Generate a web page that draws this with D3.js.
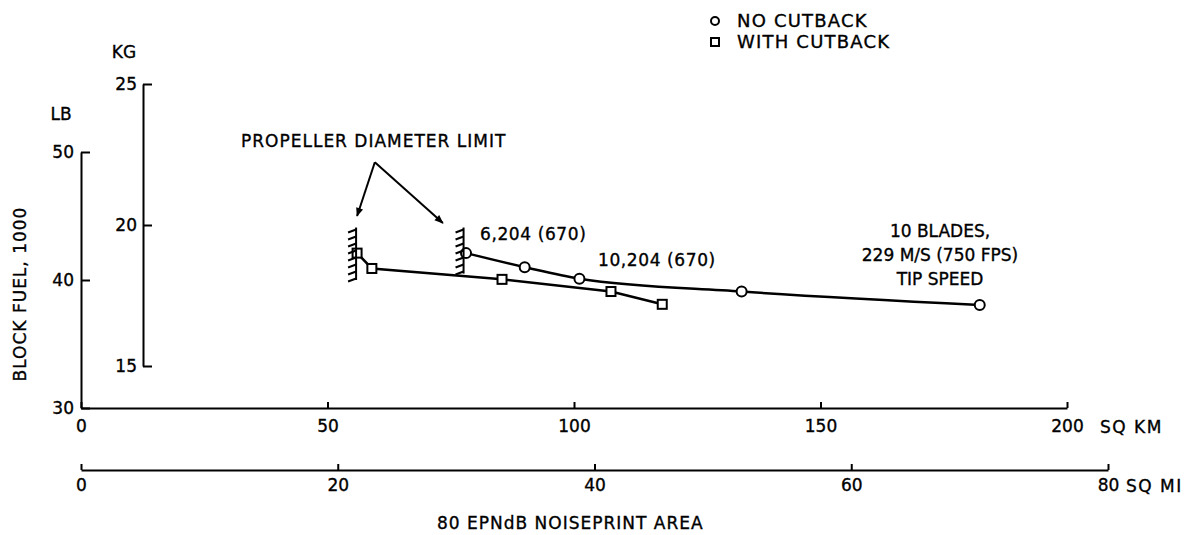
<!DOCTYPE html>
<html>
<head>
<meta charset="utf-8">
<script src="https://cdn.jsdelivr.net/npm/d3@7"></script>
<style>
body { margin: 0; background: #fff; }
svg text { font-family: "DejaVu Sans", sans-serif; font-size: 17px; fill: #000; stroke: #000; stroke-width: 0.35px; }
</style>
</head>
<body>
<svg id="chart" width="1197" height="535"></svg>
<script>
// noiseprint area (sq km) vs block fuel (1000 lb)
const noCutKm = [78.1, 90.0, 101.1, 134.0, 182.3];
const noCutFuel = [42.1, 41.0, 40.1, 39.1, 38.05];
const cutKm = [56.0, 59.0, 85.4, 107.5, 117.9];
const cutFuel = [42.1, 40.9, 40.05, 39.1, 38.1];

const kmTicks = [0, 50, 100, 150, 200];
const miTicks = [0, 20, 40, 60, 80];
const lbTicks = [30, 40, 50];
const kgTicks = [15, 20, 25];

// propeller diameter limit hatches
const limitKm = [55.8, 77.6];
const limitLow = [40.0, 40.5];
const limitHigh = [44.1, 44.1];

const svg = d3.select("#chart");

const x = d3.scaleLinear().domain([0, 200]).range([81, 1067]);
const xMi = d3.scaleLinear().domain([0, 80]).range([81, 1108]);
const y = d3.scaleLinear().domain([30, 50]).range([408, 152]);
const yKg = d3.scaleLinear().domain([15, 25]).range([366, 84]);

function styleAxis(g) {
  g.select(".domain").attr("stroke-width", 2);
  g.selectAll(".tick line").attr("stroke-width", 2);
}

// X axis, sq km
svg.append("g")
  .attr("transform", "translate(0,408)")
  .call(d3.axisBottom(x).tickValues(kmTicks).tickSizeInner(-6).tickSizeOuter(0).tickPadding(12))
  .call(styleAxis);
svg.append("text").attr("x", 1100).attr("y", 433)
  .attr("letter-spacing", 1.5).text("SQ KM");

// X axis, sq mi
svg.append("g")
  .attr("transform", "translate(0,470)")
  .call(d3.axisBottom(xMi).tickValues(miTicks).tickSizeInner(-6).tickSizeOuter(0).tickPadding(9))
  .call(styleAxis);
svg.append("text").attr("x", 1126).attr("y", 492)
  .attr("letter-spacing", 1.5).text("SQ MI");
svg.append("text").attr("x", 437).attr("y", 529)
  .attr("letter-spacing", 1).text("80  EPNdB NOISEPRINT AREA");

// Y axis, lb
svg.append("g")
  .attr("transform", "translate(81,0)")
  .call(d3.axisLeft(y).tickValues(lbTicks).tickSizeInner(-9).tickSizeOuter(0).tickPadding(7))
  .call(styleAxis);
svg.append("text").attr("x", 61).attr("y", 120).attr("text-anchor", "middle").text("LB");

// Y axis, kg
svg.append("g")
  .attr("transform", "translate(143,0)")
  .call(d3.axisLeft(yKg).tickValues(kgTicks).tickSizeInner(-9).tickSizeOuter(0).tickPadding(6))
  .call(styleAxis);
svg.append("text").attr("x", 124).attr("y", 58).attr("text-anchor", "middle").text("KG");

svg.append("text")
  .attr("transform", "translate(26,294) rotate(-90)")
  .attr("text-anchor", "middle")
  .attr("letter-spacing", 1)
  .text("BLOCK FUEL, 1000");

// lines
const noCut = noCutKm.map((k, i) => [k, noCutFuel[i]]);
const cut = cutKm.map((k, i) => [k, cutFuel[i]]);

svg.append("path").datum(noCut)
  .attr("d", d3.line().x(d => x(d[0])).y(d => y(d[1])).curve(d3.curveMonotoneX))
  .attr("fill", "none").attr("stroke", "#000").attr("stroke-width", 2.5);
svg.append("path").datum(cut)
  .attr("d", d3.line().x(d => x(d[0])).y(d => y(d[1])))
  .attr("fill", "none").attr("stroke", "#000").attr("stroke-width", 2.5);

svg.append("g").selectAll("circle")
  .data(noCut).enter()
  .append("circle")
  .attr("cx", d => x(d[0]))
  .attr("cy", d => y(d[1]))
  .attr("r", 5)
  .attr("fill", "#fff").attr("stroke", "#000").attr("stroke-width", 2);

svg.append("g").selectAll("rect")
  .data(cut).enter()
  .append("rect")
  .attr("x", d => x(d[0]) - 4.5)
  .attr("y", d => y(d[1]) - 4.5)
  .attr("width", 9).attr("height", 9)
  .attr("fill", "#fff").attr("stroke", "#000").attr("stroke-width", 2);

// hatched limit marks
limitKm.forEach((k, i) => {
  const hx = x(k), top = y(limitHigh[i]), bot = y(limitLow[i]);
  const g = svg.append("g").attr("stroke", "#000").attr("stroke-width", 2);
  g.append("line").attr("x1", hx).attr("x2", hx).attr("y1", top).attr("y2", bot);
  d3.range(top + 2, bot, 7).forEach(t => {
    g.append("line").attr("x1", hx).attr("y1", t).attr("x2", hx - 8).attr("y2", t + 3);
  });
});

// annotation arrows
svg.append("defs").append("marker")
  .attr("id", "arrow").attr("viewBox", "0 0 10 10")
  .attr("refX", 9).attr("refY", 5)
  .attr("markerWidth", 15).attr("markerHeight", 9)
  .attr("markerUnits", "userSpaceOnUse")
  .attr("orient", "auto")
  .append("path").attr("d", "M0,1 L10,5 L0,9 Z").attr("fill", "#000");

const apex = [59.6, 49.2];
const tips = [[56.0, 45.0], [73.4, 44.45]];
tips.forEach(t => {
  svg.append("line")
    .attr("x1", x(apex[0])).attr("y1", y(apex[1]))
    .attr("x2", x(t[0])).attr("y2", y(t[1]))
    .attr("stroke", "#000").attr("stroke-width", 2)
    .attr("marker-end", "url(#arrow)");
});
svg.append("text").attr("x", 241).attr("y", 147)
  .attr("letter-spacing", 1).text("PROPELLER DIAMETER LIMIT");

svg.append("text").attr("x", 480).attr("y", 240).attr("letter-spacing", 0.6).text("6,204 (670)");
svg.append("text").attr("x", 598).attr("y", 266).attr("letter-spacing", 0.6).text("10,204 (670)");
const bladeText = ["10 BLADES,", "229 M/S (750 FPS)", "TIP SPEED"];
svg.append("g").selectAll("text")
  .data(bladeText).enter()
  .append("text")
  .attr("x", 940)
  .attr("y", (d, i) => 237 + i * 24)
  .attr("text-anchor", "middle")
  .text(d => d);

// legend
const legend = svg.append("g");
legend.append("circle").attr("cx", 715).attr("cy", 21).attr("r", 4)
  .attr("fill", "#fff").attr("stroke", "#000").attr("stroke-width", 2);
legend.append("text").attr("x", 737).attr("y", 27)
  .style("font-size", "18px").attr("letter-spacing", 1.2).text("NO CUTBACK");
legend.append("rect").attr("x", 711).attr("y", 38).attr("width", 8).attr("height", 8)
  .attr("fill", "#fff").attr("stroke", "#000").attr("stroke-width", 2);
legend.append("text").attr("x", 737).attr("y", 48)
  .style("font-size", "18px").attr("letter-spacing", 1.2).text("WITH CUTBACK");
</script>
</body>
</html>
